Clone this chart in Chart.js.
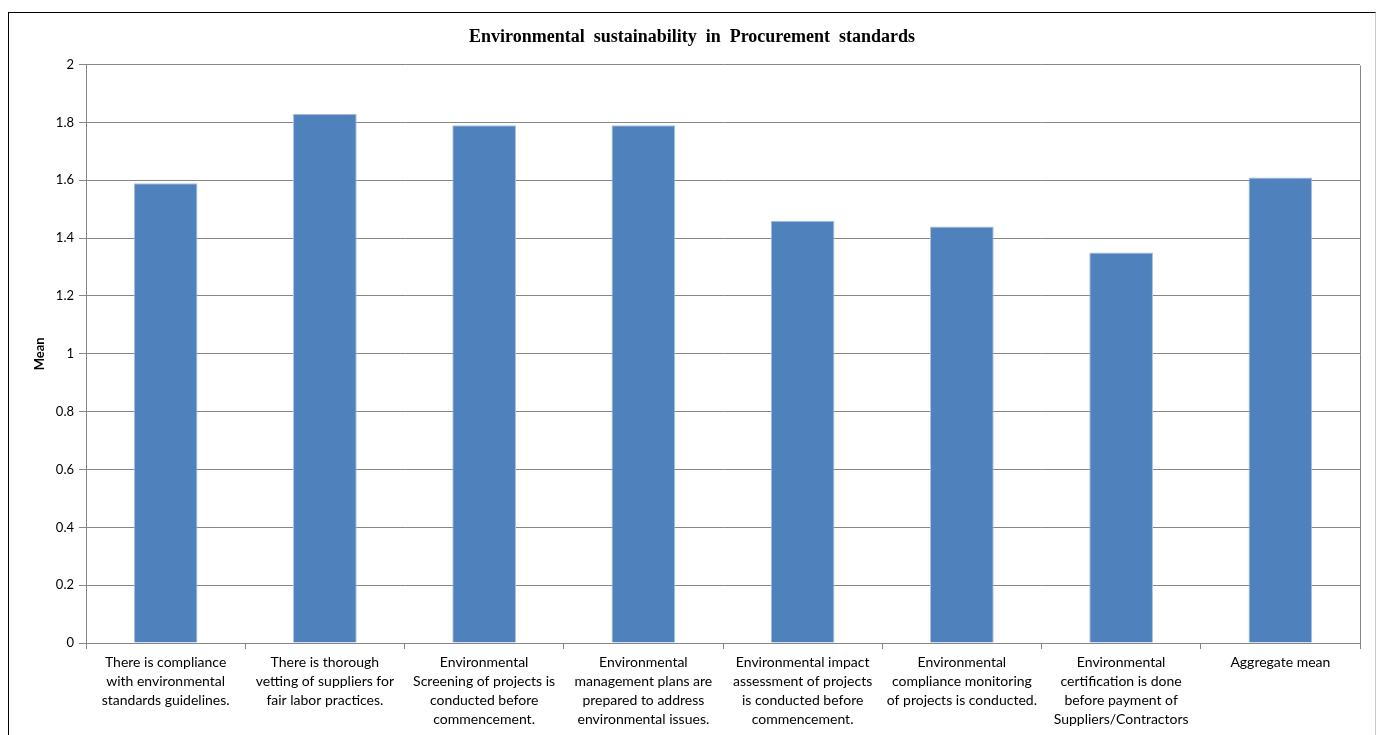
<!DOCTYPE html>
<html>
<head>
<meta charset="utf-8">
<title>Environmental sustainability in Procurement standards</title>
<script src="https://cdn.jsdelivr.net/npm/chart.js@4/dist/chart.umd.min.js"></script>
<style>
  html, body { margin: 0; padding: 0; background: #fff; overflow: hidden; }
  #frame {
    position: absolute; left: 8px; top: 12px; width: 1366px; height: 760px;
    border-left: 1px solid #000; border-top: 1px solid #000; border-right: 1px solid #c8c8c8;
  }
  #chart { position: absolute; left: 0; top: 0; }
</style>
</head>
<body>
<div id="frame"></div>
<canvas id="chart" width="1376" height="735"></canvas>
<script>
// Survey statements (x-axis categories), one line per array entry
const categories = [
  ["There is compliance", "with environmental", "standards guidelines."],
  ["There is thorough", "vetting of suppliers for", "fair labor practices."],
  ["Environmental", "Screening of projects is", "conducted before", "commencement."],
  ["Environmental", "management plans are", "prepared to address", "environmental issues."],
  ["Environmental impact", "assessment of projects", "is conducted before", "commencement."],
  ["Environmental", "compliance monitoring", "of projects is conducted."],
  ["Environmental", "certification is done", "before payment of", "Suppliers/Contractors"],
  ["Aggregate mean"]
];

// Mean score for each statement
const meanValues = [1.59, 1.83, 1.79, 1.79, 1.46, 1.44, 1.35, 1.61];

// Value-axis tick marks
const yTicks = [0, 0.2, 0.4, 0.6, 0.8, 1, 1.2, 1.4, 1.6, 1.8, 2];

const gridColor = '#868686';

// Right edge of the plot area
const plotBorder = {
  id: 'plotBorder',
  afterDatasetsDraw(chart) {
    const { ctx, chartArea: a } = chart;
    ctx.save();
    ctx.strokeStyle = gridColor;
    ctx.lineWidth = 1;
    ctx.beginPath();
    ctx.moveTo(Math.round(a.right) + 0.5, Math.round(a.top) + 0.5);
    ctx.lineTo(Math.round(a.right) + 0.5, Math.round(a.bottom) + 0.5);
    ctx.stroke();
    ctx.restore();
  }
};

new Chart(document.getElementById('chart'), {
  type: 'bar',
  data: {
    labels: categories,
    datasets: [{
      label: 'Mean',
      data: meanValues,
      backgroundColor: '#4f81bd',
      borderColor: '#a9c0df',
      borderWidth: 1,
      categoryPercentage: 1.0,
      barPercentage: 0.4
    }]
  },
  options: {
    responsive: false,
    animation: false,
    layout: { padding: { left: 24, right: 16, top: 0, bottom: 0 } },
    plugins: {
      legend: { display: false },
      tooltip: { enabled: false },
      title: {
        display: true,
        text: 'Environmental  sustainability  in  Procurement  standards',
        color: '#000',
        font: { family: '"Liberation Serif", "Times New Roman", serif', size: 18, weight: 'bold' },
        padding: { top: 27, bottom: 16 }
      }
    },
    scales: {
      x: {
        grid: {
          display: true,
          offset: true,
          drawOnChartArea: false,
          drawTicks: true,
          tickLength: 6,
          color: gridColor
        },
        border: { display: true, color: gridColor, width: 1 },
        ticks: {
          autoSkip: false,
          maxRotation: 0,
          minRotation: 0,
          padding: 4,
          color: '#000',
          font: { family: 'Lato, "Liberation Sans", sans-serif', size: 14, lineHeight: 1.36 }
        },
        afterFit(scale) { scale.height = 92; }
      },
      y: {
        min: 0,
        max: 2,
        afterBuildTicks(scale) { scale.ticks = yTicks.map(v => ({ value: v })); },
        grid: {
          color: gridColor,
          drawTicks: true,
          tickLength: 7
        },
        border: { display: true, color: gridColor, width: 1 },
        ticks: {
          padding: 5,
          color: '#000',
          font: { family: 'Lato, "Liberation Sans", sans-serif', size: 13 },
          callback: (v) => String(Math.round(v * 10) / 10)
        },
        title: {
          display: true,
          text: 'Mean',
          color: '#000',
          font: { family: 'Lato, "Liberation Sans", sans-serif', size: 13, weight: 'bold' },
          padding: { top: 8, bottom: 0 }
        },
        afterFit(scale) { scale.width = 62; }
      }
    }
  },
  plugins: [plotBorder]
});
</script>
</body>
</html>
